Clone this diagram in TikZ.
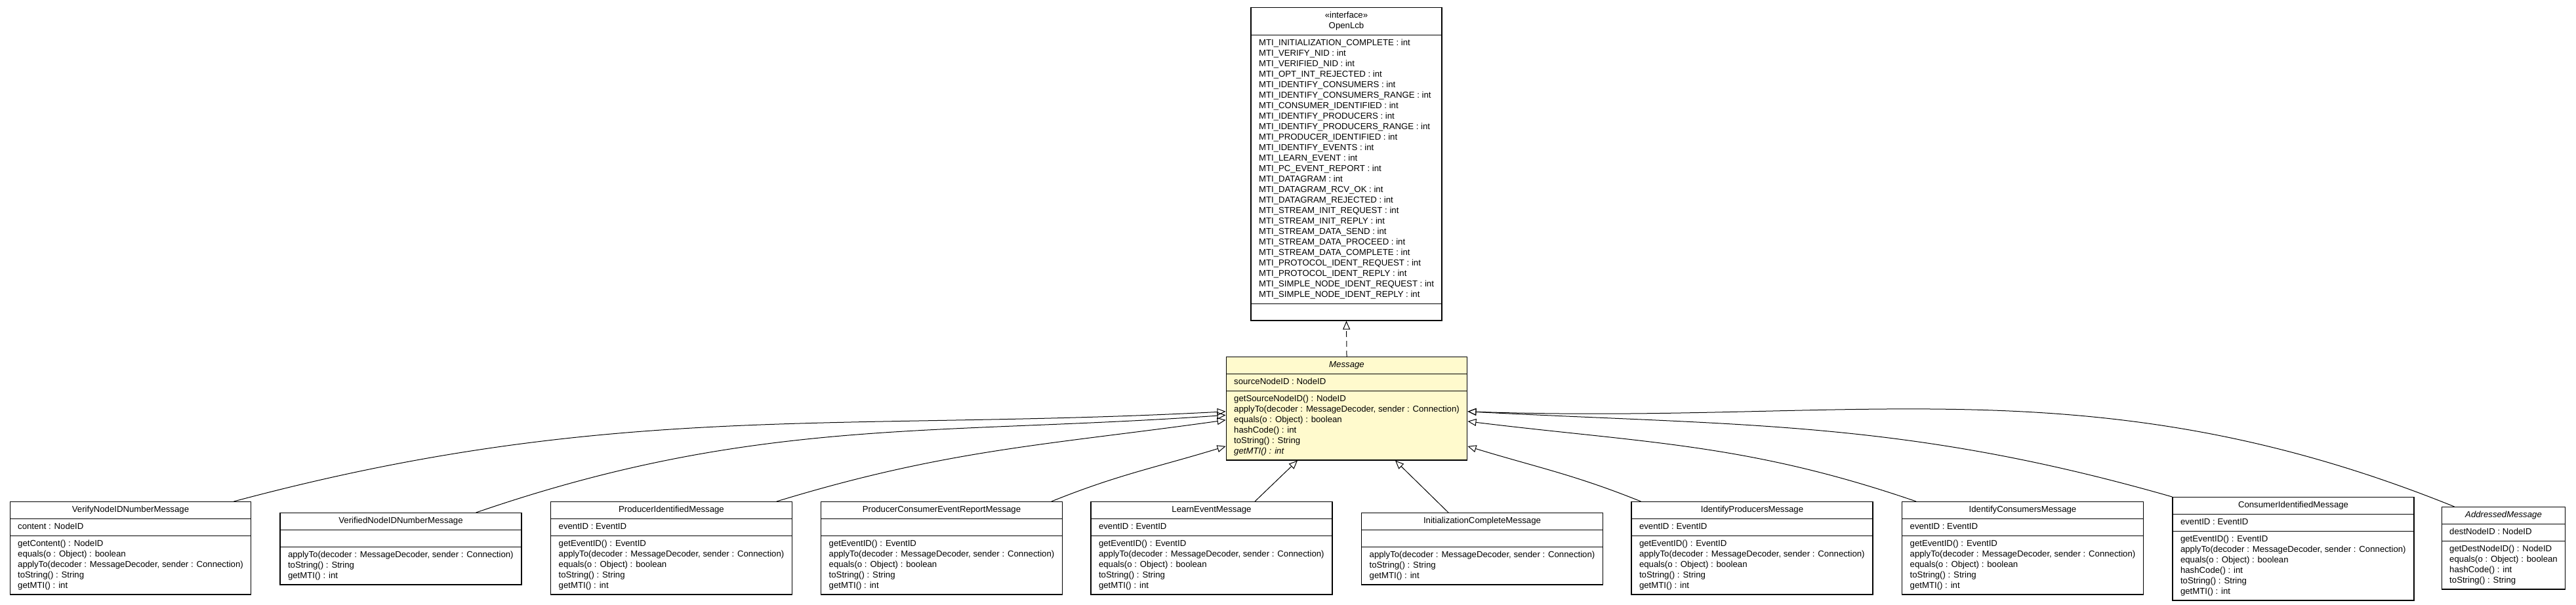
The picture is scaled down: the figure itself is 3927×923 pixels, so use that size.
\documentclass[tikz,border=0pt]{standalone}
\usepackage{fontspec}
\setmainfont{Liberation Sans}
\usetikzlibrary{positioning,arrows.meta,shapes.multipart}
\definecolor{abstractfill}{RGB}{255,250,205}

\begin{document}
\begin{tikzpicture}[
  x=1pt, y=-1pt,
  cls/.style={draw, line width=1.2pt, rectangle split, rectangle split parts=3,
              rectangle split part align={center,left,left}, align=left,
              anchor=north, inner xsep=12pt, inner ysep=4.3pt,
              minimum width=367pt, font=\fontsize{13.2}{16}\selectfont},
  inh/.style={-{Triangle[open,length=13pt,width=11pt]}, line width=1pt},
  impl/.style={inh, dash pattern=on 9pt off 6pt}
]
\useasboundingbox (0,0) rectangle (3927,923);

% interface and abstract base
\node[cls, minimum width=291pt] (openlcb) at (2052.5,11) {%
  \begin{tabular}{@{}c@{}}«interface»\\OpenLcb\end{tabular}
  \nodepart{two}\strut MTI\_INITIALIZATION\_COMPLETE : int\\
  MTI\_VERIFY\_NID : int\\
  MTI\_VERIFIED\_NID : int\\
  MTI\_OPT\_INT\_REJECTED : int\\
  MTI\_IDENTIFY\_CONSUMERS : int\\
  MTI\_IDENTIFY\_CONSUMERS\_RANGE : int\\
  MTI\_CONSUMER\_IDENTIFIED : int\\
  MTI\_IDENTIFY\_PRODUCERS : int\\
  MTI\_IDENTIFY\_PRODUCERS\_RANGE : int\\
  MTI\_PRODUCER\_IDENTIFIED : int\\
  MTI\_IDENTIFY\_EVENTS : int\\
  MTI\_LEARN\_EVENT : int\\
  MTI\_PC\_EVENT\_REPORT : int\\
  MTI\_DATAGRAM : int\\
  MTI\_DATAGRAM\_RCV\_OK : int\\
  MTI\_DATAGRAM\_REJECTED : int\\
  MTI\_STREAM\_INIT\_REQUEST : int\\
  MTI\_STREAM\_INIT\_REPLY : int\\
  MTI\_STREAM\_DATA\_SEND : int\\
  MTI\_STREAM\_DATA\_PROCEED : int\\
  MTI\_STREAM\_DATA\_COMPLETE : int\\
  MTI\_PROTOCOL\_IDENT\_REQUEST : int\\
  MTI\_PROTOCOL\_IDENT\_REPLY : int\\
  MTI\_SIMPLE\_NODE\_IDENT\_REQUEST : int\\
  MTI\_SIMPLE\_NODE\_IDENT\_REPLY : int\strut
  \nodepart{three}\strut};
\node[cls, fill=abstractfill] (message) at (2053,544) {\strut\textit{Message}
  \nodepart{two}\strut sourceNodeID : NodeID
  \nodepart{three}\strut getSourceNodeID() : NodeID\\
  applyTo(decoder : MessageDecoder, sender : Connection)\\
  equals(o : Object) : boolean\\
  hashCode() : int\\
  toString() : String\\
  \textit{getMTI() : int}\strut};

% concrete messages
\node[cls, minimum width=366pt] (verify) at (199,765) {\strut VerifyNodeIDNumberMessage
  \nodepart{two}\strut content : NodeID
  \nodepart{three}\strut getContent() : NodeID\\
  equals(o : Object) : boolean\\
  applyTo(decoder : MessageDecoder, sender : Connection)\\
  toString() : String\\
  getMTI() : int\strut};
\node[cls, minimum width=368pt] (verified) at (611,782) {\strut VerifiedNodeIDNumberMessage
  \nodepart{two}\strut
  \nodepart{three}\strut applyTo(decoder : MessageDecoder, sender : Connection)\\
  toString() : String\\
  getMTI() : int\strut};
\node[cls] (prodid) at (1023.5,765) {\strut ProducerIdentifiedMessage
  \nodepart{two}\strut eventID : EventID
  \nodepart{three}\strut getEventID() : EventID\\
  applyTo(decoder : MessageDecoder, sender : Connection)\\
  equals(o : Object) : boolean\\
  toString() : String\\
  getMTI() : int\strut};
\node[cls] (pcer) at (1435.5,765) {\strut ProducerConsumerEventReportMessage
  \nodepart{two}\strut
  \nodepart{three}\strut getEventID() : EventID\\
  applyTo(decoder : MessageDecoder, sender : Connection)\\
  equals(o : Object) : boolean\\
  toString() : String\\
  getMTI() : int\strut};
\node[cls, minimum width=368pt] (learn) at (1847,765) {\strut LearnEventMessage
  \nodepart{two}\strut eventID : EventID
  \nodepart{three}\strut getEventID() : EventID\\
  applyTo(decoder : MessageDecoder, sender : Connection)\\
  equals(o : Object) : boolean\\
  toString() : String\\
  getMTI() : int\strut};
\node[cls] (initc) at (2259.5,782) {\strut InitializationCompleteMessage
  \nodepart{two}\strut
  \nodepart{three}\strut applyTo(decoder : MessageDecoder, sender : Connection)\\
  toString() : String\\
  getMTI() : int\strut};
\node[cls, minimum width=368pt] (identprod) at (2671,765) {\strut IdentifyProducersMessage
  \nodepart{two}\strut eventID : EventID
  \nodepart{three}\strut getEventID() : EventID\\
  applyTo(decoder : MessageDecoder, sender : Connection)\\
  equals(o : Object) : boolean\\
  toString() : String\\
  getMTI() : int\strut};
\node[cls] (identcons) at (3083.5,765) {\strut IdentifyConsumersMessage
  \nodepart{two}\strut eventID : EventID
  \nodepart{three}\strut getEventID() : EventID\\
  applyTo(decoder : MessageDecoder, sender : Connection)\\
  equals(o : Object) : boolean\\
  toString() : String\\
  getMTI() : int\strut};
\node[cls, minimum width=368pt] (consid) at (3496,758) {\strut ConsumerIdentifiedMessage
  \nodepart{two}\strut eventID : EventID
  \nodepart{three}\strut getEventID() : EventID\\
  applyTo(decoder : MessageDecoder, sender : Connection)\\
  equals(o : Object) : boolean\\
  hashCode() : int\\
  toString() : String\\
  getMTI() : int\strut};
\node[cls, minimum width=187pt] (addressed) at (3816.5,773) {\strut\textit{AddressedMessage}
  \nodepart{two}\strut destNodeID : NodeID
  \nodepart{three}\strut getDestNodeID() : NodeID\\
  equals(o : Object) : boolean\\
  hashCode() : int\\
  toString() : String\strut};

% realization and generalizations
\draw[impl] (message.north) -- (openlcb.south);
\draw[inh] ([xshift=-27pt]verify.north east) .. controls +(15:595pt) and +(183:595pt) .. ([yshift=-4.5pt]message.west);
\draw[inh] ([xshift=-70pt]verified.north east) .. controls +(19:450pt) and +(184:450pt) .. ([yshift=-10pt]message.west);
\draw[inh] ([xshift=-24pt]prodid.north east) .. controls +(17:273pt) and +(188:273pt) .. ([yshift=-17.5pt]message.west);
\draw[inh] ([xshift=-17pt]pcer.north east) .. controls +(22:110pt) and +(197:110pt) .. ([yshift=-57.5pt]message.west);
\draw[inh] ([xshift=66pt]learn.north) -- ([xshift=-75pt]message.south);
\draw[inh] ([xshift=-51.5pt]initc.north) -- ([xshift=74pt]message.south);
\draw[inh] ([xshift=15pt]identprod.north west) .. controls +(158:109pt) and +(-17:109pt) .. ([yshift=-57.5pt]message.east);
\draw[inh] ([xshift=22pt]identcons.north west) .. controls +(161:272pt) and +(-7:272pt) .. ([yshift=-19.5pt]message.east);
\draw[inh] (consid.north west) .. controls +(164:424pt) and +(-3:424pt) .. ([yshift=-4.5pt]message.east);
\draw[inh] ([xshift=20pt]addressed.north west) .. controls +(158:592pt) and +(-2:592pt) .. ([yshift=-4.5pt]message.east);
\end{tikzpicture}
\end{document}
